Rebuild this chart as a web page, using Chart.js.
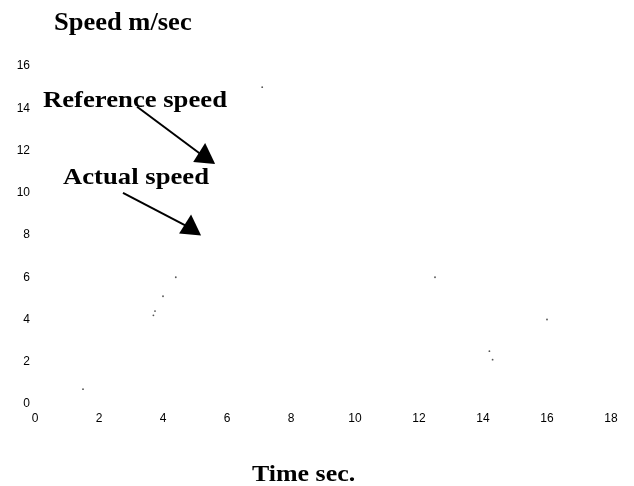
<!DOCTYPE html>
<html>
<head>
<meta charset="utf-8">
<script src="https://cdn.jsdelivr.net/npm/chart.js@4"></script>
<style>
  html, body { margin: 0; padding: 0; background: #fff; }
  #chart { display: block; }
</style>
</head>
<body>
<canvas id="chart" width="634" height="486"></canvas>
<script>
// --- Data ---
// the curves themselves are almost lost in the scan; only a few specks survive
const speckTime = [1.5, 3.7, 3.75, 4.0, 4.4, 7.1, 12.5, 14.2, 14.3, 16.0];
const speckSpeed = [0.7, 4.2, 4.4, 5.1, 6.0, 15.0, 6.0, 2.5, 2.1, 4.0];

const xTicks = [0, 2, 4, 6, 8, 10, 12, 14, 16, 18];
const yTicks = [0, 2, 4, 6, 8, 10, 12, 14, 16];

const yTitle = 'Speed m/sec';
const xTitle = 'Time sec.';

// annotation labels with their arrows (data coordinates)
const labelText = ['Reference speed', 'Actual speed'];
const labelAt = [[0.25, 14.06], [0.875, 10.41]];
const arrowFrom = [[3.19, 14.07], [2.75, 9.99]];
const arrowTo = [[5.63, 11.36], [5.19, 7.98]];

const serif = '"Liberation Serif", "DejaVu Serif", serif';
const tickFont = { family: '"Liberation Sans", Arial, sans-serif', size: 12 };

// the scanned lettering is a bit wider than the font, so stretch it
function wideText(c, text, x, y, size, stretch) {
    c.save();
    c.font = 'bold ' + size + 'px ' + serif;
    c.translate(x, y);
    c.scale(stretch, 1);
    c.fillText(text, 0, 0);
    c.restore();
}

// draws the axis titles, labels and arrows
const annotate = {
    id: 'annotate',
    afterDraw(chart) {
        const c = chart.ctx;
        const xs = chart.scales.x, ys = chart.scales.y;
        c.save();
        c.fillStyle = '#000';
        c.strokeStyle = '#000';
        c.textBaseline = 'alphabetic';
        c.textAlign = 'left';

        wideText(c, yTitle, 54, 30, 25, 1.06);
        wideText(c, xTitle, 252, 481, 24, 1.08);

        labelText.forEach((t, i) => {
            wideText(c, t, xs.getPixelForValue(labelAt[i][0]), ys.getPixelForValue(labelAt[i][1]), 23, 1.16);
        });

        // the heads are upright triangles, tip at the lower right corner
        arrowFrom.forEach((p, i) => {
            const x0 = xs.getPixelForValue(p[0]), y0 = ys.getPixelForValue(p[1]);
            const x1 = xs.getPixelForValue(arrowTo[i][0]), y1 = ys.getPixelForValue(arrowTo[i][1]);
            c.lineWidth = 2;
            c.beginPath();
            c.moveTo(x0, y0);
            c.lineTo(x1 - 12, y1 - 8);
            c.stroke();
            c.beginPath();
            c.moveTo(x1, y1);
            c.lineTo(x1 - 10, y1 - 21);
            c.lineTo(x1 - 22, y1 - 2);
            c.closePath();
            c.fill();
        });
        c.restore();
    }
};

const chart = new Chart(document.getElementById('chart'), {
    type: 'scatter',
    data: {
        datasets: [{
            label: 'specks',
            data: speckTime.map((t, i) => ({ x: t, y: speckSpeed[i] })),
            pointRadius: 0.9,
            pointBorderWidth: 0,
            pointBackgroundColor: '#555',
            showLine: false
        }]
    },
    options: {
        responsive: false,
        animation: false,
        layout: { padding: { top: 66, right: 23, bottom: 0, left: 0 } },
        plugins: { legend: { display: false }, tooltip: { enabled: false } },
        scales: {
            x: {
                type: 'linear', min: 0, max: 18,
                afterBuildTicks: s => { s.ticks = xTicks.map(v => ({ value: v })); },
                afterFit: s => { s.height = 82; },
                grid: { display: false, drawTicks: false },
                border: { display: false },
                ticks: { color: '#000', font: tickFont, padding: 7, maxRotation: 0, autoSkip: false }
            },
            y: {
                type: 'linear', min: 0, max: 16,
                afterBuildTicks: s => { s.ticks = yTicks.map(v => ({ value: v })); },
                afterFit: s => { s.width = 35; },
                grid: { display: false, drawTicks: false },
                border: { display: false },
                ticks: { color: '#000', font: tickFont, padding: 5 }
            }
        }
    },
    plugins: [annotate]
});
</script>
</body>
</html>
